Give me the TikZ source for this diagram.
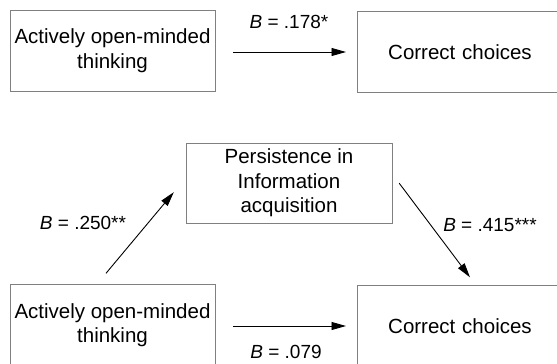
\documentclass[tikz,border=0pt]{standalone}
\usepackage{fontspec}
\setmainfont{Liberation Sans}
\usetikzlibrary{arrows.meta}
\begin{document}
\begin{tikzpicture}[x=1pt,y=-1pt,
				box/.style={rectangle,draw=black!50,fill=white,minimum width=205pt,minimum height=81pt,align=center,font=\fontsize{20.5}{24.5}\selectfont},
				openbox/.style={box,anchor=west,align=left,inner xsep=31pt,text width=190pt},
				lbl/.style={inner sep=0pt,font=\fontsize{19}{22}\selectfont},
				arr/.style={-{Triangle[length=14.5pt,width=8pt]},line width=0.9pt}]
\clip (0,0) rectangle (557,364);
% total effect
\node[box] (aomtA) at (112.5,50.5) {Actively open-minded\\thinking};
\node[openbox] (ccA) at (357,52) {Correct choices};
\draw[arr,shorten <=18pt,shorten >=11pt] (aomtA.east |- ccA.west) -- (ccA.west);
\node[lbl] (bA) at (289,22) {\textit{B} = .178*};
% mediation
\node[box,minimum width=206pt,minimum height=80pt] (pia) at (289,183) {Persistence in\\Information\\acquisition};
\node[box] (aomtB) at (112.5,325) {Actively open-minded\\thinking};
\node[openbox] (ccB) at (357,326) {Correct choices};
\draw[arr] ([xshift=-6.5pt,yshift=11pt]aomtB.north) -- ([xshift=-12pt,yshift=31pt]pia.south west);
\draw[arr] ([xshift=7pt,yshift=40pt]pia.south east) -- ([xshift=113pt,yshift=8pt]ccB.north west);
\draw[arr,shorten <=18pt,shorten >=11pt] (aomtB.east |- ccB.west) -- (ccB.west);
\node[lbl] (bB) at (83,223) {\textit{B} = .250**};
\node[lbl] (bC) at (490,225) {\textit{B} = .415***};
\node[lbl] (bD) at (286,352) {\textit{B} = .079};
\end{tikzpicture}
\end{document}
